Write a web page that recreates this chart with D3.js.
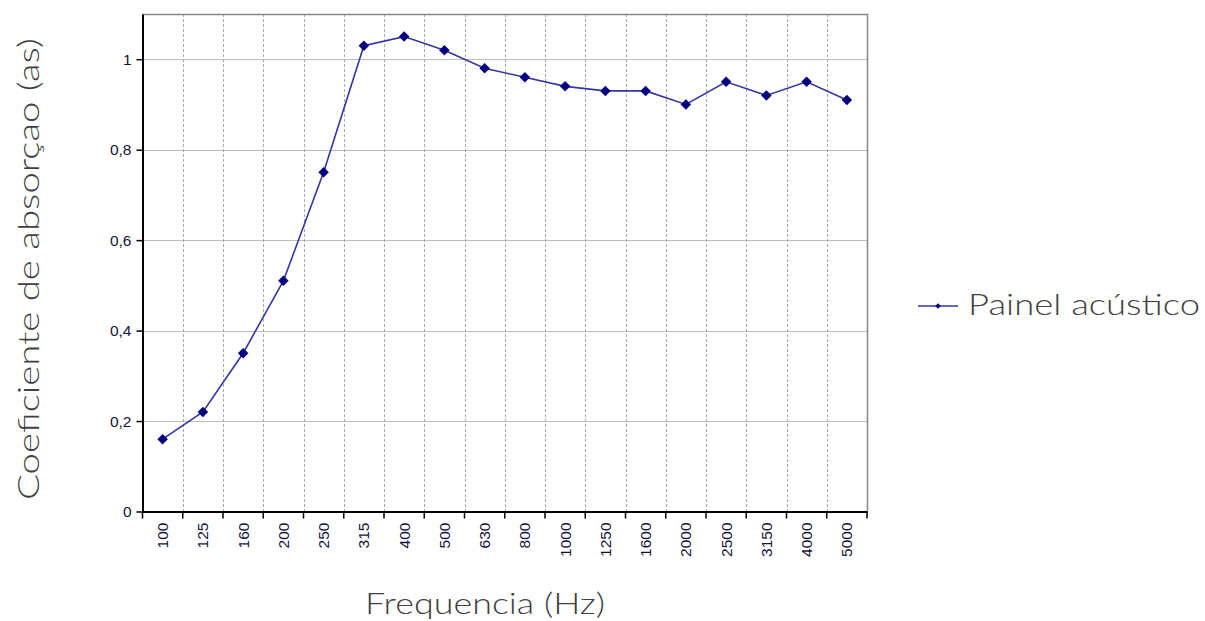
<!DOCTYPE html>
<html><head><meta charset="utf-8">
<script src="https://cdn.jsdelivr.net/npm/d3@7"></script>
<style>body{margin:0;background:#fff}svg{display:block}</style>
</head><body><svg id="c" width="1205" height="621"></svg>
<script>
const categories = ["100","125","160","200","250","315","400","500","630","800","1000","1250","1600","2000","2500","3150","4000","5000"];
const values = [0.16,0.22,0.35,0.51,0.75,1.03,1.05,1.02,0.98,0.96,0.94,0.93,0.93,0.90,0.95,0.92,0.95,0.91];
const yTicks = [0,0.2,0.4,0.6,0.8,1];
const yTickLabels = ["0","0,2","0,4","0,6","0,8","1"];
const seriesName = "Painel acústico";
const xTitle = "Frequencia (Hz)";
const yTitle = "Coeficiente de absorçao (as)";

const svg = d3.select("#c");
const L=142.5, R=867, T=14, B=511.5;
const x = d3.scaleBand().domain(categories).range([L,R]);
const y = d3.scaleLinear().domain([0,1.1]).range([B,T]);
const titleFont = "'Lato','Open Sans',sans-serif";
const tickFont = "'Liberation Sans',Arial,sans-serif";

// gridlines
const g = svg.append("g");
g.selectAll("line.h").data(yTicks.slice(1)).join("line")
 .attr("x1",L).attr("x2",R).attr("y1",d=>Math.round(y(d))+0.5).attr("y2",d=>Math.round(y(d))+0.5)
 .attr("stroke","#bcbcbc").attr("stroke-width",1);
g.selectAll("line.v").data(categories.slice(1)).join("line")
 .attr("x1",d=>Math.round(x(d))+0.5).attr("x2",d=>Math.round(x(d))+0.5).attr("y1",T).attr("y2",B)
 .attr("stroke","#a8a8a8").attr("stroke-width",1).attr("stroke-dasharray","3,2");
// frame top/right
svg.append("path").attr("d",`M${L},${T+0.5}H${R+0.5}V${B}`).attr("fill","none").attr("stroke","#888").attr("stroke-width",1.5);

// y axis
const ya = svg.append("g").attr("transform",`translate(${L},0)`)
 .call(d3.axisLeft(y).tickValues(yTicks).tickFormat((d,i)=>yTickLabels[i]).tickSize(6).tickSizeOuter(0));
ya.select(".domain").attr("stroke","#000").attr("stroke-width",2);
ya.selectAll(".tick line").attr("stroke","#000").attr("stroke-width",1.5);
ya.selectAll(".tick text").attr("font-family",tickFont).attr("font-size",15.5).attr("fill","#14143a").attr("dx",-2);

// x axis
const xa = svg.append("g").attr("transform",`translate(0,${B})`)
 .call(d3.axisBottom(x).tickSize(0).tickSizeOuter(0));
xa.select(".domain").attr("stroke","#000").attr("stroke-width",2);
xa.selectAll(".tick text").attr("font-family",tickFont).attr("font-size",15.5).attr("fill","#14143a")
 .attr("transform","rotate(-90)").attr("text-anchor","end").attr("x",-11).attr("y",0).attr("dy","0.35em");
const bounds = categories.map(c=>x(c)).concat([R]);
svg.append("g").selectAll("line").data(bounds).join("line")
 .attr("x1",d=>d).attr("x2",d=>d).attr("y1",B).attr("y2",B+7).attr("stroke","#000").attr("stroke-width",1.5);

// series
const cx = d=>x(d)+x.bandwidth()/2;
const line = d3.line().x((d,i)=>cx(categories[i])).y(d=>y(d));
svg.append("path").datum(values).attr("d",line).attr("fill","none").attr("stroke","#3535a5").attr("stroke-width",1.6);
const diamond = d3.symbol().type(d3.symbolDiamond2).size(70);
svg.append("g").selectAll("path").data(values).join("path")
 .attr("transform",(d,i)=>`translate(${cx(categories[i])},${y(d)})`).attr("d",diamond).attr("fill","#000080");

// titles
svg.append("text").attr("x",365).attr("y",614)
 .attr("textLength",240).attr("lengthAdjust","spacingAndGlyphs")
 .attr("font-family",titleFont).attr("font-weight",300).attr("font-size",30).attr("fill","#404040").text(xTitle);
svg.append("text").attr("transform","translate(39,500) rotate(-90)")
 .attr("textLength",462).attr("lengthAdjust","spacingAndGlyphs")
 .attr("font-family",titleFont).attr("font-weight",300).attr("font-size",30).attr("fill","#404040").text(yTitle);

// legend
svg.append("line").attr("x1",918).attr("x2",958).attr("y1",306).attr("y2",306).attr("stroke","#3535a5").attr("stroke-width",1.6);
svg.append("path").attr("transform","translate(938,306)").attr("d",d3.symbol().type(d3.symbolDiamond2).size(20)).attr("fill","#000080");
svg.append("text").attr("x",968).attr("y",315)
 .attr("textLength",232).attr("lengthAdjust","spacingAndGlyphs")
 .attr("font-family",titleFont).attr("font-weight",300).attr("font-size",30).attr("fill","#404040").text(seriesName);
</script></body></html>
